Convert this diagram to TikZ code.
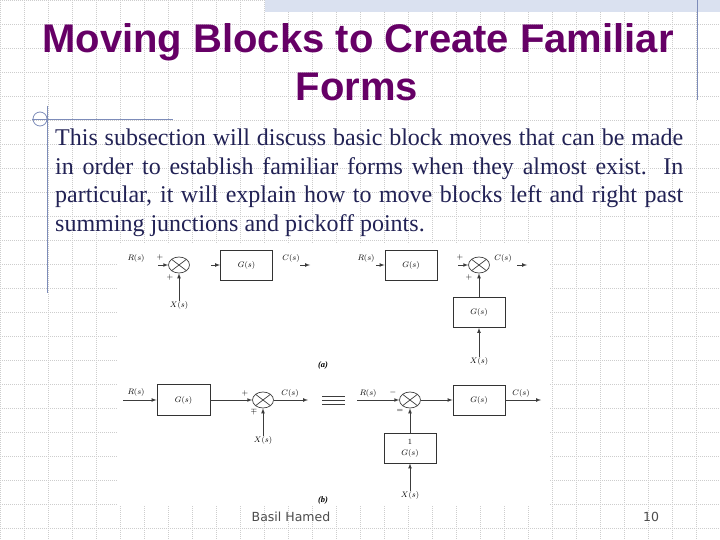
\documentclass[tikz,border=0pt]{standalone}
\usepackage{fontspec}
\setmainfont{Liberation Serif}
\newfontfamily\titlefont{Liberation Sans}
\newfontfamily\footfont{DejaVu Sans}
\usetikzlibrary{shapes.geometric}
\definecolor{titlepurple}{RGB}{102,0,102}
\definecolor{bodynavy}{RGB}{34,34,85}
\definecolor{rulegray}{RGB}{125,140,185}
\definecolor{gridgray}{RGB}{205,205,205}
\definecolor{bandblue}{RGB}{218,225,240}
\definecolor{wiregray}{RGB}{60,60,60}

\begin{document}
\begin{tikzpicture}
    [
  x=1pt, y=-1pt,
  gridline/.style={
    gridgray,
    line width=0.6pt,
    dash pattern=on 1pt off 1pt
  },
  ornament/.style={
    rulegray,
    line width=0.8pt
  },
  titletext/.style={
    anchor=base,
    inner sep=0pt,
    text=titlepurple,
    font=\titlefont\bfseries\fontsize{40}{48}\selectfont
  },
  bodyline/.style={
    anchor=base west,
    inner sep=0pt,
    text=bodynavy,
    font=\fontsize{24}{28.5}\selectfont
  },
  foottext/.style={
    anchor=base,
    inner sep=0pt,
    text=black!70,
    font=\footfont\fontsize{12.5}{15}\selectfont
  },
  block/.style={
    draw=black!80,
    line width=0.9pt,
    minimum width=52pt,
    minimum height=30pt,
    inner sep=0pt,
    font=\fontsize{8.5}{10}\selectfont
  },
  sumj/.style={
    ellipse,
    draw=black!75,
    line width=0.7pt,
    minimum width=21pt,
    minimum height=16pt,
    inner sep=0pt,
    path picture={
      \draw [black!75, line width=0.7pt]
        (path picture bounding box.north west) -- (path picture bounding box.south east)
        (path picture bounding box.north east) -- (path picture bounding box.south west);
    }
  },
  lab/.style={
    inner sep=0pt,
    font=\fontsize{8.5}{10}\selectfont
  },
  sgn/.style={
    inner sep=0pt,
    font=\fontsize{8}{9}\selectfont
  },
  wire/.style={
    wiregray,
    line width=0.7pt,
    -latex
  }
  ]
  \useasboundingbox (0,0) rectangle (720,540);

  % slide background
  \fill [white] (0,0) rectangle (720,540);
  \foreach \gx in {0,24,...,720} \draw [gridline] (\gx,0) -- (\gx,540);
  \foreach \gy in {0,24,...,528} \draw [gridline] (0,\gy) -- (720,\gy);
  \fill [bandblue] (265,0) rectangle (720,12);
  \draw [ornament] (697,0) -- (697,100);
  \draw [ornament] (32,119) -- (173,119);
  \draw [ornament] (47,106) -- (47,293);
  \draw [ornament] (40,119) circle (7pt);
  \fill [white] (117,244) rectangle (550,505);

  % title and text
  \node (title1) at (358,53) [titletext] {Moving Blocks to Create Familiar};
  \node (title2) at (357,101) [titletext] {Forms};
  \node (body1) at (55,146) [bodyline] {\makebox[628pt][s]{This subsection will discuss basic block moves that can be made}};
  \node (body2) at (55,174.5) [bodyline] {\makebox[628pt][s]{in order to establish familiar forms when they almost exist. In}};
  \node (body3) at (55,203) [bodyline] {\makebox[628pt][s]{particular, it will explain how to move blocks left and right past}};
  \node (body4) at (55,231.5) [bodyline] {summing junctions and pickoff points.};
  \node (author) at (291,521) [foottext] {Basil Hamed};
  \node (pagenum) at (651,521) [foottext] {10};

  % (a) left
  \node (Ra) at (136,258) [lab] {$R(s)$};
  \node (sumA) at (179,265) [sumj] {};
  \node (blkA) at (246.5,265) [block] {$G(s)$};
  \node (Ca) at (291,258) [lab] {$C(s)$};
  \node (Xa) at (179,305) [lab] {$X(s)$};
  \node (pA1) at (160,257) [sgn] {$+$};
  \node (pA2) at (170,277) [sgn] {$+$};
  \coordinate (inA) at (158,265);
  \coordinate (inblkA) at (211,265);
  \coordinate (outA1) at (300,265);
  \coordinate (outA2) at (310,265);
  \draw [wire] (inA) -- (sumA.west);
  \draw [wire] (inblkA) -- (blkA.west);
  \draw [wire] (outA1) -- (outA2);
  \draw [wire] (Xa.north) -- (sumA.south);

  % (a) right
  \node (Rb) at (366,258) [lab] {$R(s)$};
  \node (blkB) at (411,265) [block] {$G(s)$};
  \node (sumB) at (479,265) [sumj] {};
  \node (Cb) at (503,258) [lab] {$C(s)$};
  \node (blkC) at (479,312.5) [block] {$G(s)$};
  \node (Xb) at (479,361) [lab] {$X(s)$};
  \node (pB1) at (460,257) [sgn] {$+$};
  \node (pB2) at (469,277) [sgn] {$+$};
  \coordinate (inblkB) at (376,265);
  \coordinate (inB) at (458,265);
  \coordinate (outB1) at (517,265);
  \coordinate (outB2) at (527,265);
  \draw [wire] (inblkB) -- (blkB.west);
  \draw [wire] (inB) -- (sumB.west);
  \draw [wire] (outB1) -- (outB2);
  \draw [wire] (blkC.north) -- (sumB.south);
  \draw [wire] (Xb.north) -- (blkC.south);
  \node (capA) at (323,365) [lab] {\textbf{\textit{(a)}}};

  % (b) left
  \node (Rc) at (136,392) [lab] {$R(s)$};
  \coordinate (inC) at (123,400);
  \node (blkD) at (183.5,400) [block, minimum width=53pt, minimum height=31pt] {$G(s)$};
  \node (sumC) at (263,400) [sumj] {};
  \node (Cc) at (290,393) [lab] {$C(s)$};
  \coordinate (outC) at (308,400);
  \node (Xc) at (263,440) [lab] {$X(s)$};
  \node (pC1) at (245,393) [sgn] {$+$};
  \node (pC2) at (254,411) [sgn] {$\mp$};
  \draw [wire] (inC) -- (blkD.west);
  \draw [wire] (blkD.east) -- (sumC.west);
  \draw [wire] (sumC.east) -- (outC);
  \draw [wire] (Xc.north) -- (sumC.south);
  \foreach \ey in {396,400,404} \draw [wiregray, line width=0.7pt] (322,\ey) -- (345,\ey);

  % (b) right
  \node (Rd) at (368,393) [lab] {$R(s)$};
  \coordinate (inD) at (357,400);
  \node (sumD) at (410,400) [sumj] {};
  \node (blkE) at (479,400) [block] {$G(s)$};
  \node (Cd) at (521,393) [lab] {$C(s)$};
  \coordinate (outD) at (541,400);
  \node (blkF) at (410,448) [block, align=center] {$1$\\[1pt]$G(s)$};
  \node (Xd) at (410,495) [lab] {$X(s)$};
  \node (pD1) at (393,392) [sgn] {$-$};
  \node (pD2) at (400,411) [sgn] {$=$};
  \draw [wire] (inD) -- (sumD.west);
  \draw [wire] (sumD.east) -- (blkE.west);
  \draw [wire] (blkE.east) -- (outD);
  \draw [wire] (blkF.north) -- (sumD.south);
  \draw [wire] (Xd.north) -- (blkF.south);
  \node (capB) at (323,500) [lab] {\textbf{\textit{(b)}}};
\end{tikzpicture}
\end{document}
